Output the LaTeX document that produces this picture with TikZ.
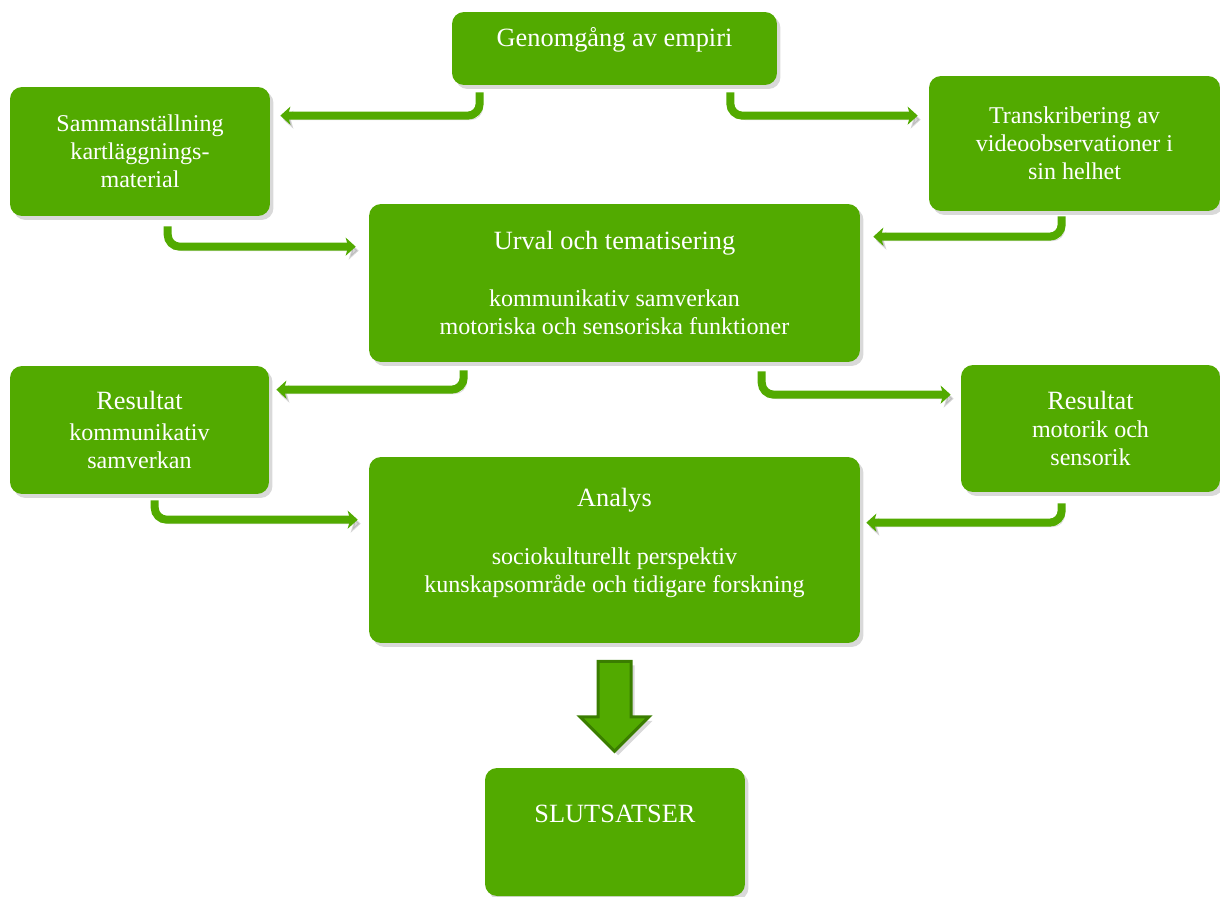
\documentclass[tikz,border=0pt]{standalone}
\usepackage{fontspec}
\setmainfont{Liberation Serif}
\usetikzlibrary{arrows.meta,calc,shadows,shapes.arrows}
\definecolor{leaf}{RGB}{82,170,0}
\definecolor{leafdark}{RGB}{58,125,0}
\newcommand{\titlesize}{\fontsize{15}{18}\selectfont}
\newcommand{\bodysize}{\fontsize{13.7}{15.9}\selectfont}
\tikzset{
  box/.style={rectangle,rounded corners=0.24cm,fill=leaf,text=white,align=center,
    inner sep=2pt,font=\bodysize,
    drop shadow={shadow xshift=0.07cm,shadow yshift=-0.08cm,opacity=0.3}},
  flow/.style={draw=leaf,line width=0.16cm,rounded corners=0.24cm,
    -{Stealth[length=0.2cm,width=0.36cm,inset=0.05cm]},
    preaction={draw=black!45,opacity=0.35,transform canvas={shift={(0.06cm,-0.08cm)}}}},
  lifted/.style={text depth=#1}
}
\begin{document}
\begin{tikzpicture}[x=0.02cm,y=-0.02cm]
    \useasboundingbox (0,0) rectangle (1220,896);

    \node[box,minimum width=6.5cm,minimum height=1.46cm,lifted=0.46cm] (genom) at (614.5,48.5)
        {\titlesize Genomgång av empiri};
    \node[box,minimum width=5.2cm,minimum height=2.58cm] (samm) at (140,151.5)
        {Sammanställning\\ kartläggnings-\\ material};
    \node[box,minimum width=5.82cm,minimum height=2.7cm] (trans) at (1074.5,143.5)
        {Transkribering av\\ videoobservationer i\\ sin helhet};
    \node[box,minimum width=9.82cm,minimum height=3.16cm] (urval) at (614.5,283)
        {\titlesize Urval och tematisering\\[16.5pt]\bodysize kommunikativ samverkan\\ motoriska och sensoriska funktioner};
    \node[box,minimum width=5.18cm,minimum height=2.56cm] (resL) at (139.5,430)
        {\titlesize Resultat\\[1.7pt]\bodysize kommunikativ\\ samverkan};
    \node[box,minimum width=5.18cm,minimum height=2.54cm] (resR) at (1090.5,428.5)
        {\titlesize Resultat\\\bodysize motorik och\\ sensorik};
    \node[box,minimum width=9.82cm,minimum height=3.72cm,lifted=0.38cm] (analys) at (614.5,550)
        {\titlesize Analys\\[17pt]\bodysize sociokulturellt perspektiv\\ kunskapsområde och tidigare forskning};
    \node[box,minimum width=5.2cm,minimum height=2.56cm,lifted=0.74cm] (slut) at (615,832)
        {\titlesize SLUTSATSER};

    \node[single arrow,draw=leafdark,fill=leaf,line width=0.06cm,rotate=-90,
        minimum height=1.8cm,inner sep=0.3cm,single arrow head extend=0.36cm,
        drop shadow={shadow xshift=0.07cm,shadow yshift=-0.08cm,opacity=0.3}]
        (down) at (614.5,698) {};

    \draw[flow] ($(genom.south west)+(28,7)$) |- ($(samm.north east)+(10,29)$);
    \draw[flow] ($(genom.south east)+(-47,7)$) |- ($(trans.north west)+(-11,40)$);
    \draw[flow] ($(samm.south west)+(158,10)$) |- ($(urval.north west)+(-13,43)$);
    \draw[flow] ($(trans.south west)+(133,5)$) |- ($(urval.north east)+(13,33)$);
    \draw[flow] ($(urval.south west)+(95,8)$) |- ($(resL.north east)+(7,24)$);
    \draw[flow] ($(urval.south west)+(393,9)$) |- ($(resR.north west)+(-10,30)$);
    \draw[flow] ($(resL.south west)+(145,6)$) |- ($(analys.north west)+(-11,63)$);
    \draw[flow] ($(resR.south west)+(101,11)$) |- ($(analys.north east)+(6,66)$);
\end{tikzpicture}
\end{document}
